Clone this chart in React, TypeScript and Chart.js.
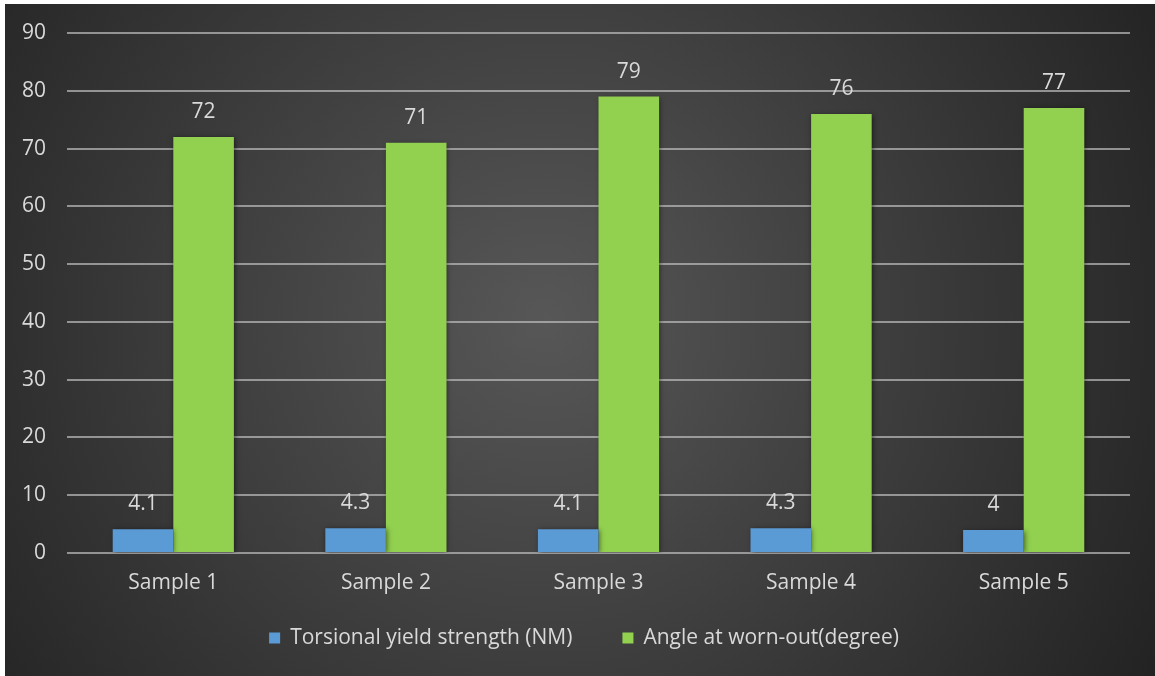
import React, { useEffect, useRef } from "react";
import { Chart, registerables } from "chart.js";

Chart.register(...registerables);

const categories = ["Sample 1", "Sample 2", "Sample 3", "Sample 4", "Sample 5"];
const torsionalYield = [4.1, 4.3, 4.1, 4.3, 4];
const angleWornOut = [72, 71, 79, 76, 77];
const seriesNames = ["Torsional yield strength (NM)", "Angle at worn-out(degree)"];
const yMin = 0;
const yMax = 90;
const yStep = 10;

const FONT = "'Open Sans', Lato, sans-serif";
const FONT_SIZE = 21;
const TEXT = "#d9d9d9";

const bgPlugin = {
  id: "bgGradient",
  beforeDraw(chart: any) {
    const { ctx, width, height } = chart;
    ctx.save();
    const g = ctx.createRadialGradient(width * 0.47, height * 0.47, 0, width * 0.47, height * 0.47, width * 0.62);
    g.addColorStop(0, "#575757");
    g.addColorStop(0.55, "#3a3a3a");
    g.addColorStop(1, "#222222");
    ctx.fillStyle = g;
    ctx.fillRect(0, 0, width, height);
    ctx.restore();
  },
};

const shadowPlugin = {
  id: "barShadow",
  beforeDatasetsDraw(chart: any) {
    const { ctx } = chart;
    ctx.save();
    ctx.shadowColor = "rgba(0,0,0,0.55)";
    ctx.shadowBlur = 5;
    ctx.shadowOffsetX = 1;
    ctx.shadowOffsetY = 1;
  },
  afterDatasetsDraw(chart: any) {
    chart.ctx.restore();
  },
};

// Legend drawn from the datasets (labels + colours), laid out like the original
const legendPlugin = {
  id: "bottomLegend",
  afterDraw(chart: any) {
    const { ctx, width, height } = chart;
    const box = 11;
    const boxGap = 10;
    const itemGap = 50;
    ctx.save();
    ctx.font = `${FONT_SIZE}px ${FONT}`;
    ctx.textBaseline = "middle";
    ctx.textAlign = "left";
    const items = chart.data.datasets.map((ds: any) => ({
      text: ds.label,
      color: ds.backgroundColor,
      w: box + boxGap + ctx.measureText(ds.label).width,
    }));
    const total = items.reduce((s: number, it: any) => s + it.w, 0) + itemGap * (items.length - 1);
    let x = (width - total) / 2 + 4;
    const y = height - 38;
    items.forEach((it: any) => {
      ctx.fillStyle = it.color;
      ctx.fillRect(x, y - box / 2, box, box);
      ctx.fillStyle = TEXT;
      ctx.fillText(it.text, x + box + boxGap, y);
      x += it.w + itemGap;
    });
    ctx.restore();
  },
};

const labelPlugin = {
  id: "valueLabels",
  afterDatasetsDraw(chart: any) {
    const { ctx } = chart;
    ctx.save();
    ctx.font = `${FONT_SIZE}px ${FONT}`;
    ctx.fillStyle = TEXT;
    ctx.textAlign = "center";
    ctx.textBaseline = "middle";
    chart.data.datasets.forEach((ds: any, i: number) => {
      const meta = chart.getDatasetMeta(i);
      meta.data.forEach((el: any, j: number) => {
        ctx.fillText(String(ds.data[j]), el.x, el.y - 25);
      });
    });
    ctx.restore();
  },
};

export default function App() {
  const ref = useRef<HTMLCanvasElement | null>(null);
  useEffect(() => {
    if (!ref.current) return;
    const chart = new Chart(ref.current, {
      type: "bar",
      data: {
        labels: categories,
        datasets: [
          {
            label: seriesNames[0],
            data: torsionalYield,
            backgroundColor: "#5b9bd5",
            barPercentage: 1,
            categoryPercentage: 0.57,
          },
          {
            label: seriesNames[1],
            data: angleWornOut,
            backgroundColor: "#92d050",
            barPercentage: 1,
            categoryPercentage: 0.57,
          },
        ],
      },
      options: {
        animation: false,
        responsive: true,
        maintainAspectRatio: false,
        layout: { padding: { top: 29, right: 25, bottom: 63, left: 0 } },
        scales: {
          x: {
            grid: { display: false },
            border: { display: false },
            ticks: { color: TEXT, font: { family: FONT, size: FONT_SIZE }, padding: 9 },
            afterFit: (scale: any) => {
              scale.height = 60;
            },
          },
          y: {
            min: yMin,
            max: yMax,
            ticks: { stepSize: yStep, color: TEXT, font: { family: FONT, size: FONT_SIZE }, padding: 0 },
            grid: {
              color: "rgba(190,190,190,0.7)",
              lineWidth: 2,
              drawTicks: true,
              tickLength: 21,
              tickColor: "rgba(0,0,0,0)",
            },
            border: { display: false },
            afterFit: (scale: any) => {
              scale.width = 62;
            },
          },
        },
        plugins: {
          legend: { display: false },
          tooltip: { enabled: false },
        },
      },
      plugins: [bgPlugin, shadowPlugin, labelPlugin, legendPlugin],
    });
    return () => chart.destroy();
  }, []);

  return (
    <div style={{ position: "fixed", left: 0, top: 0, width: 1155, height: 676, background: "#fff" }}>
      <div style={{ position: "absolute", left: 5, top: 4, width: 1150, height: 672 }}>
        <canvas ref={ref} />
      </div>
    </div>
  );
}
